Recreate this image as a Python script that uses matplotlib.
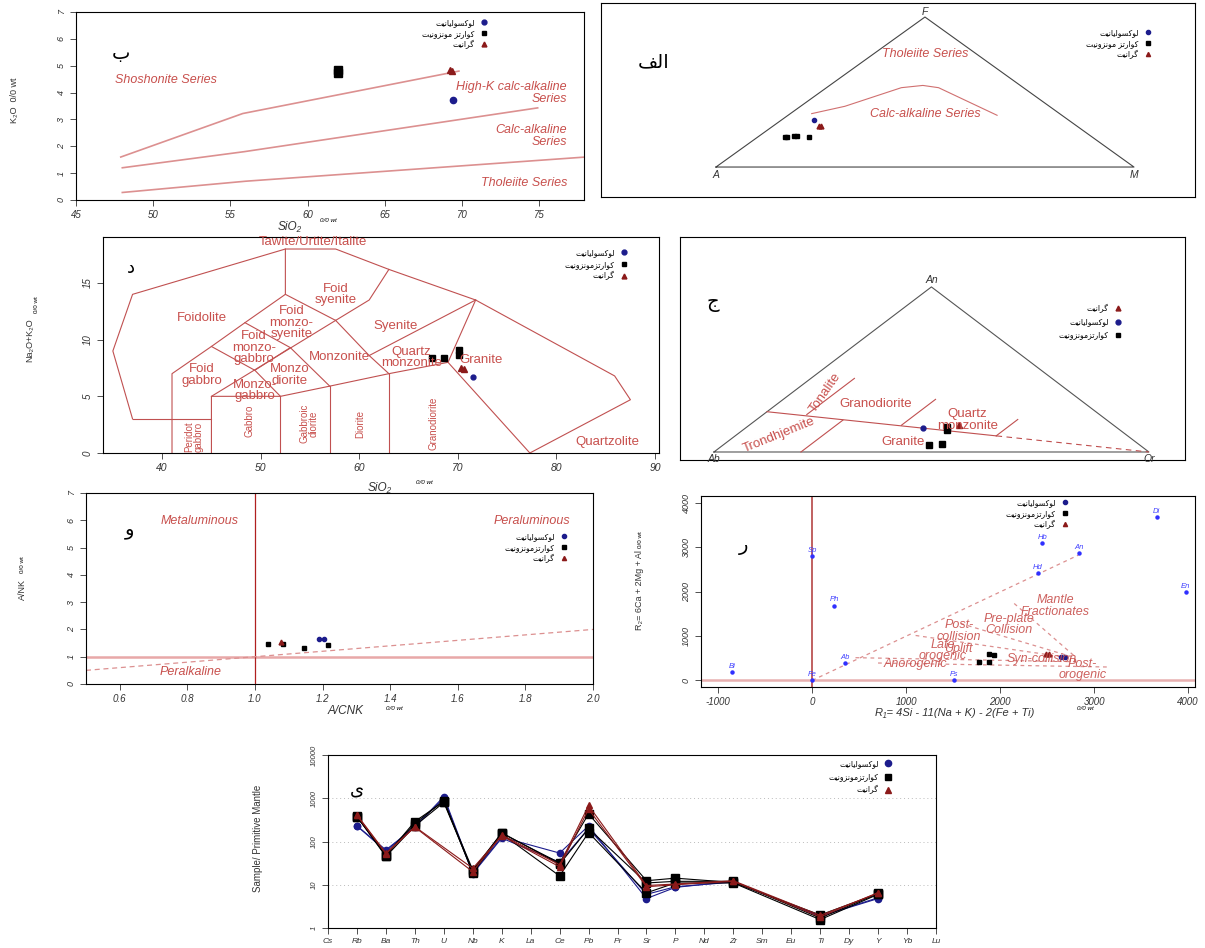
import numpy as np
import matplotlib.pyplot as plt
from matplotlib.lines import Line2D

plt.rcParams['font.family'] = ['Liberation Sans', 'DejaVu Sans']
plt.rcParams['axes.unicode_minus'] = False

W, H = 1205, 948
RED = '#c8504d'
LINE = '#c05050'
PINK = '#dc9090'
BLUE = '#1c1c8c'
DRED = '#8b1a1a'

# legend names
lux = 'لوکسولیانیت'
qmz = 'کوارتز مونزونیت'
qmz2 = 'کوارتزمونزونیت'
gra = 'گرانیت'

# --- panel ب : K2O vs SiO2
sio2_lux = [69.4]
k2o_lux = [3.72]
sio2_qm = [62.0, 62.0]
k2o_qm = [4.72, 4.85]
sio2_gr = [69.2, 69.35]
k2o_gr = [4.83, 4.80]
pt_x = [[47.9, 55.8, 69.8], [48, 55.9, 74.9], [48, 56, 78]]
pt_y = [[1.6, 3.22, 4.8], [1.2, 1.8, 3.43], [0.28, 0.7, 1.6]]

# --- panel الف : AFM
afm_A_lux, afm_F_lux, afm_M_lux = [60.9], [31.1], [8.0]
afm_A_qm = [73.6, 72.9, 71.1, 70.5, 67.8]
afm_F_qm = [20.0, 20.1, 20.4, 20.4, 20.0]
afm_M_qm = [6.4, 7.0, 8.5, 9.1, 12.2]
afm_A_gr, afm_F_gr, afm_M_gr = [61.7, 61.1], [27.1, 27.6], [11.2, 11.3]
ib_A = [59.3, 48.9, 29.2, 23.3, 20.3, 15.5]
ib_F = [35.6, 40.5, 52.9, 54.4, 52.9, 34.5]
ib_M = [5.1, 10.6, 17.9, 22.3, 26.8, 50.0]

# --- panel د : TAS (plutonic)
tas_si_lux = [71.5]
tas_alk_lux = [6.7]
tas_si_qm = [67.4, 68.6, 70.1, 70.1]
tas_alk_qm = [8.38, 8.38, 9.06, 8.68]
tas_si_gr = [70.3, 70.6]
tas_alk_gr = [7.5, 7.4]
tas_lines = [
    [(37, 3), (35, 9), (37, 14), (52.5, 18), (57.6, 18), (63, 16.2), (71.8, 13.5),
     (85.9, 6.8), (87.5, 4.7), (77.3, 0)],
    [(41, 0), (41, 7), (45, 9.4), (48.4, 11.5), (52.5, 14), (52.5, 18)],
    [(37, 3), (45, 3)],
    [(45, 0), (45, 5), (52, 5), (57, 5.9), (63, 7), (69, 8)],
    [(52, 0), (52, 5)], [(57, 0), (57, 5.9)], [(63, 0), (63, 7)],
    [(45, 5), (57.6, 11.7)],
    [(45, 9.4), (49.4, 7.3), (52, 5)],
    [(49.4, 7.3), (53, 9.3), (57, 5.9)],
    [(48.4, 11.5), (53, 9.3)],
    [(52.5, 14), (57.6, 11.7), (61, 13.5), (63, 16.2)],
    [(57.6, 11.7), (61, 8.6), (63, 7)],
    [(61, 8.6), (71.8, 13.5)],
    [(77.3, 0), (69, 8), (71.8, 13.5)],
]

# --- panel ج : Ab-An-Or
an_lux, or_lux = [14.6], [40.7]
an_qm, or_qm = [15.2, 13.2, 4.1, 5.1], [46.0, 47.0, 47.5, 49.9]
an_gr, or_gr = [16.2], [48.3]
oc_an = [[24.4, 9.75], [22.7, 44.6], [16.2, 31.9], [9.75, 19.7], [0, 19.3]]
oc_or = [[0, 60.1], [10, 10], [35, 35], [60, 60], [20, 20]]
oc_dash_an = [9.75, 0]
oc_dash_or = [60.1, 100]

# --- panel و : A/NK vs A/CNK
acnk_lux, ank_lux = [1.19, 1.205], [1.66, 1.66]
acnk_qm, ank_qm = [1.038, 1.084, 1.145, 1.217], [1.47, 1.47, 1.33, 1.42]
acnk_gr, ank_gr = [1.076], [1.53]

# --- panel ر : R1-R2
r1_lux, r2_lux = [2649, 2690], [526, 526]
r1_qm, r2_qm = [1774, 1885, 1877, 1939], [414, 414, 602, 564]
r1_gr, r2_gr = [2484, 2520], [586, 586]
min_names = ['Bi', 'Fe', 'Ab', 'Fs', 'Ph', 'Sp', 'Hb', 'Hd', 'An', 'Di', 'En']
min_r1 = [-850, 0, 350, 1514, 235, 0, 2450, 2401, 2840, 3667, 3977]
min_r2 = [188, 15, 391, 0, 1684, 2797, 3098, 2421, 2870, 3684, 1992]
bb_r1 = [[0, 2834], [2150, 2800], [1580, 2750], [1100, 2700], [460, 2800], [700, 3150]]
bb_r2 = [[0, 2820], [1730, 530], [1280, 540], [1010, 520], [510, 420], [390, 300]]

# --- panel ی : spider diagram
elements = ['Cs', 'Rb', 'Ba', 'Th', 'U', 'Nb', 'K', 'La', 'Ce', 'Pb', 'Pr', 'Sr', 'P',
            'Nd', 'Zr', 'Sm', 'Eu', 'Ti', 'Dy', 'Y', 'Yb', 'Lu']
n = np.nan
lux1 = [n, 230, 64, 214, 1097, 19, 126, n, 54, 230, n, 4.8, 8.7, n, 12, n, n, 1.86, n, 4.8, n, n]
lux2 = [n, 228, 60, 225, 1000, 18, 120, n, 33, 200, n, 6.0, 9.0, n, 11.5, n, n, 1.9, n, 5.0, n, n]
qm1 = [n, 377, 47, 290, 840, 22, 155, n, 32, 435, n, 12.4, 14.2, n, 11.3, n, n, 2.0, n, 6.2, n, n]
qm2 = [n, 370, 50, 260, 880, 18.6, 150, n, 16, 161, n, 6.5, 11, n, 11, n, n, 1.56, n, 6.0, n, n]
qm3 = [n, 380, 45, 230, 800, 20, 160, n, 30, 200, n, 11, 12, n, 12, n, n, 1.7, n, 6.3, n, n]
gr1 = [n, 413, 54, 214, n, 20, 142, n, 29, 680, n, 9.6, 10.4, n, 12.4, n, n, 1.96, n, 6.4, n, n]
gr2 = [n, 400, 52, 220, n, 24, 135, n, 26, 560, n, 9.0, 10.0, n, 12.0, n, n, 1.8, n, 6.6, n, n]

# Persian letters -> presentation forms (iso, fin, ini, med)
FORMS = {
    'ا': ('\uFE8D', '\uFE8E', None, None), 'ب': ('\uFE8F', '\uFE90', '\uFE91', '\uFE92'),
    'ت': ('\uFE95', '\uFE96', '\uFE97', '\uFE98'), 'ج': ('\uFE9D', '\uFE9E', '\uFE9F', '\uFEA0'),
    'د': ('\uFEA9', '\uFEAA', None, None), 'ر': ('\uFEAD', '\uFEAE', None, None),
    'ز': ('\uFEAF', '\uFEB0', None, None), 'س': ('\uFEB1', '\uFEB2', '\uFEB3', '\uFEB4'),
    'ف': ('\uFED1', '\uFED2', '\uFED3', '\uFED4'), 'ل': ('\uFEDD', '\uFEDE', '\uFEDF', '\uFEE0'),
    'م': ('\uFEE1', '\uFEE2', '\uFEE3', '\uFEE4'), 'ن': ('\uFEE5', '\uFEE6', '\uFEE7', '\uFEE8'),
    'و': ('\uFEED', '\uFEEE', None, None), 'ک': ('\uFB8E', '\uFB8F', '\uFB90', '\uFB91'),
    'گ': ('\uFB92', '\uFB93', '\uFB94', '\uFB95'), 'ی': ('\uFBFC', '\uFBFD', '\uFBFE', '\uFBFF'),
}


def fa(s):
    out = []
    for i, ch in enumerate(s):
        f = FORMS.get(ch)
        if f is None:
            out.append(ch)
            continue
        prev = s[i - 1] if i > 0 else ''
        nxt = s[i + 1] if i + 1 < len(s) else ''
        jp = prev in FORMS and FORMS[prev][2] is not None
        jn = f[2] is not None and nxt in FORMS
        out.append(f[3] if jp and jn else f[1] if jp else f[2] if jn else f[0])
    return ''.join(out[::-1])


fig = plt.figure(figsize=(W / 100, H / 100), dpi=100)


def px_axes(l, t, r, b):
    return fig.add_axes([l / W, 1 - b / H, (r - l) / W, (b - t) / H])


def ftext(x, y, s, **kw):
    fig.text(x / W, 1 - y / H, s, **kw)


def style(ax, size=7):
    ax.tick_params(direction='out', length=4, width=0.6, labelsize=size, colors='#333333')
    ax.tick_params(axis='y', labelrotation=90, labelsize=size - 0.5)
    for lab in ax.get_xticklabels() + ax.get_yticklabels():
        lab.set_style('italic')
    for lab in ax.get_yticklabels():
        lab.set_va('center')
    for s in ax.spines.values():
        s.set_linewidth(0.8)


STY = {'lux': dict(marker='o', color=BLUE), 'qm': dict(marker='s', color='black'),
       'gr': dict(marker='^', color=DRED)}
NAMES = {'lux': lux, 'qm': qmz2, 'gr': gra}


def legend(ax, order, x, y, ms, fs=5.5, sp=0.25, names=None):
    names = names or NAMES
    hs = [Line2D([], [], ls='none', ms=ms, **STY[k]) for k in order]
    ax.legend(hs, [fa(names[k]) for k in order], loc='upper right',
              bbox_to_anchor=(x / W, 1 - y / H), bbox_transform=fig.transFigure,
              frameon=False, markerfirst=False, borderpad=0, borderaxespad=0,
              handlelength=0.8, handletextpad=0.8, labelspacing=sp,
              prop={'family': 'DejaVu Sans', 'size': fs})


def tern(l, t, r):
    l, t, r = (np.asarray(v, float) for v in (l, t, r))
    s = l + t + r
    return (r + t / 2) / s, t / s * np.sqrt(3) / 2


# ===== ب
ax = px_axes(76, 12, 584, 200)
for xs, ys in zip(pt_x, pt_y):
    ax.plot(xs, ys, color=PINK, lw=1.2)
ax.plot(sio2_qm, k2o_qm, ls='none', ms=6, **STY['qm'])
ax.plot(sio2_gr, k2o_gr, ls='none', ms=5, **STY['gr'])
ax.plot(sio2_lux, k2o_lux, ls='none', ms=4.5, **STY['lux'])
tk = dict(color=RED, style='italic', fontsize=9, linespacing=1.0)
ax.text(50.8, 4.46, 'Shoshonite Series', ha='center', va='center', **tk)
ax.text(76.8, 3.97, 'High-K calc-alkaline\nSeries', ha='right', va='center', multialignment='right', **tk)
ax.text(76.8, 2.38, 'Calc-alkaline\nSeries', ha='right', va='center', multialignment='right', **tk)
ax.text(76.8, 0.64, 'Tholeiite Series', ha='right', va='center', **tk)
ax.text(47.9, 5.45, fa('ب'), fontsize=14, family='DejaVu Sans', ha='center', va='center')
ax.set_xlim(45, 77.9)
ax.set_ylim(0, 7)
ax.set_xticks(range(45, 80, 5))
ax.set_yticks(range(0, 8))
style(ax)
legend(ax, ['lux', 'qm', 'gr'], 487, 18, 3.5, names={'lux': lux, 'qm': qmz, 'gr': gra})
ftext(290, 227, 'SiO₂', fontsize=8.5, style='italic', ha='center', va='center', color='#333333')
ftext(328, 221, '0/0 wt', fontsize=4.5, style='italic', ha='center', va='center')
ftext(15, 100, 'K₂O  0/0 wt', fontsize=6.5, rotation=90, ha='center', va='center', color='#333333')

# ===== الف
ax = px_axes(601, 3, 1195, 197)
ax.set_xticks([])
ax.set_yticks([])
tx, ty = tern([1, 0, 0, 1], [0, 1, 0, 0], [0, 0, 1, 0])
ax.plot(tx, ty, color='#444444', lw=0.8)
ax.plot(*tern(ib_A, ib_F, ib_M), color='#d07070', lw=0.8)
ax.plot(*tern(afm_A_qm, afm_F_qm, afm_M_qm), ls='none', ms=3.5, **STY['qm'])
ax.plot(*tern(afm_A_gr, afm_F_gr, afm_M_gr), ls='none', ms=3.5, **STY['gr'])
ax.plot(*tern(afm_A_lux, afm_F_lux, afm_M_lux), ls='none', ms=3, **STY['lux'])
ax.set_xlim(-0.275, 1.146)
ax.set_ylim(-0.173, 0.947)
ax.text(0.5, 0.655, 'Tholeiite Series', ha='center', va='center', **tk)
ax.text(0.5, 0.305, 'Calc-alkaline Series', ha='center', va='center', **tk)
vk = dict(style='italic', fontsize=7.5, color='#333333', ha='center', va='center')
ax.text(0, -0.045, 'A', **vk)
ax.text(1, -0.045, 'M', **vk)
ax.text(0.5, 0.895, 'F', **vk)
ftext(654, 62, fa('الف'), fontsize=14, family='DejaVu Sans', ha='center', va='center')
legend(ax, ['lux', 'qm', 'gr'], 1151, 28, 3, names={'lux': lux, 'qm': qmz, 'gr': gra})

# ===== د
ax = px_axes(103, 237, 659, 453)
for seg in tas_lines:
    xs, ys = zip(*seg)
    ax.plot(xs, ys, color=LINE, lw=0.8)
ax.plot(tas_si_qm, tas_alk_qm, ls='none', ms=4, **STY['qm'])
ax.plot(tas_si_gr, tas_alk_gr, ls='none', ms=4, **STY['gr'])
ax.plot(tas_si_lux, tas_alk_lux, ls='none', ms=3.5, **STY['lux'])
rk = dict(color=RED, fontsize=9.5, ha='center', va='center', linespacing=0.95)
ax.text(55.3, 18.6, 'Tawite/Urtite/Italite', **rk)
ax.text(57.65, 14.0, 'Foid\nsyenite', **rk)
ax.text(44.0, 11.9, 'Foidolite', **rk)
ax.text(53.1, 11.5, 'Foid\nmonzo-\nsyenite', **rk)
ax.text(63.7, 11.2, 'Syenite', **rk)
ax.text(49.3, 9.3, 'Foid\nmonzo-\ngabbro', **rk)
ax.text(58.0, 8.44, 'Monzonite', **rk)
ax.text(65.3, 8.44, 'Quartz\nmonzonite', **rk)
ax.text(72.3, 8.2, 'Granite', **rk)
ax.text(44.0, 6.9, 'Foid\ngabbro', **rk)
ax.text(52.9, 6.9, 'Monzo\ndiorite', **rk)
ax.text(49.4, 5.5, 'Monzo-\ngabbro', **rk)
rv = dict(rk, fontsize=7, rotation=90)
ax.text(43.2, 1.4, 'Peridot\ngabbro', **rv)
ax.text(48.9, 2.8, 'Gabbro', **rv)
ax.text(54.9, 2.6, 'Gabbroic\ndiorite', **rv)
ax.text(60.1, 2.6, 'Diorite', **rv)
ax.text(67.5, 2.6, 'Granodiorite', **rv)
ax.text(85.2, 0.94, 'Quartzolite', **rk)
ax.text(36.8, 16.3, fa('د'), fontsize=13, family='DejaVu Sans', ha='center', va='center')
ax.set_xlim(34, 90.4)
ax.set_ylim(0, 19.06)
ax.set_xticks(range(40, 100, 10))
ax.set_yticks([0, 5, 10, 15])
style(ax, 7.5)
legend(ax, ['lux', 'qm', 'gr'], 627, 248, 3.5, sp=0.35)
ftext(380, 488, 'SiO₂', fontsize=8.5, style='italic', ha='center', va='center', color='#333333')
ftext(424, 482, '0/0 wt', fontsize=4.5, style='italic', ha='center', va='center')
ftext(30, 340, 'Na₂O+K₂O', fontsize=6.5, rotation=90, ha='center', va='center', color='#333333')
ftext(36, 305, '0/0 wt', fontsize=4.5, rotation=90, ha='center', va='center')

# ===== ج
ax = px_axes(680, 237, 1185, 460)
ax.set_xticks([])
ax.set_yticks([])
tx, ty = tern([1, 0, 0, 1], [0, 1, 0, 0], [0, 0, 1, 0])
ax.plot(tx, ty, color='#555555', lw=0.8)
for a, o in zip(oc_an, oc_or):
    a, o = np.array(a), np.array(o)
    ax.plot(*tern(100 - a - o, a, o), color=LINE, lw=0.8)
da, do = np.array(oc_dash_an), np.array(oc_dash_or)
ax.plot(*tern(100 - da - do, da, do), color=LINE, lw=0.8, ls=(0, (5, 4)))
ax.plot(*tern(100 - np.array(an_qm) - np.array(or_qm), an_qm, or_qm), ls='none', ms=4, **STY['qm'])
ax.plot(*tern(100 - np.array(an_gr) - np.array(or_gr), an_gr, or_gr), ls='none', ms=4, **STY['gr'])
ax.plot(*tern(100 - np.array(an_lux) - np.array(or_lux), an_lux, or_lux), ls='none', ms=3.5, **STY['lux'])
ck = dict(color=RED, fontsize=9.5, ha='center', va='center', linespacing=0.95)
ax.text(0.255, 0.31, 'Tonalite', rotation=55, **ck)
ax.text(0.371, 0.251, 'Granodiorite', **ck)
ax.text(0.583, 0.167, 'Quartz\nmonzonite', **ck)
ax.text(0.15, 0.088, 'Trondhjemite', rotation=22, **ck)
ax.text(0.434, 0.053, 'Granite', **ck)
ax.text(0.5, 0.905, 'An', **vk)
ax.text(0, -0.035, 'Ab', **vk)
ax.text(1, -0.035, 'Or', **vk)
ax.set_xlim(-0.078, 1.083)
ax.set_ylim(-0.042, 1.128)
ftext(713, 302, fa('ج'), fontsize=14, family='DejaVu Sans', ha='center', va='center')
legend(ax, ['gr', 'lux', 'qm'], 1121, 304, 3.5, sp=0.55)

# ===== و
ax = px_axes(86, 493, 593, 684)
ax.axhline(1, color='#e8a8a8', lw=1.8)
ax.axvline(1, color='#b02020', lw=0.9)
ax.plot([0.5, 2.0], [0.5, 2.0], color=PINK, lw=0.9, ls=(0, (4, 3)))
ax.plot(acnk_qm, ank_qm, ls='none', ms=3.5, **STY['qm'])
ax.plot(acnk_gr, ank_gr, ls='none', ms=3.5, **STY['gr'])
ax.plot(acnk_lux, ank_lux, ls='none', ms=3, **STY['lux'])
ax.text(0.835, 5.96, 'Metaluminous', ha='center', va='center', **tk)
ax.text(1.819, 5.96, 'Peraluminous', ha='center', va='center', **tk)
ax.text(0.81, 0.45, 'Peralkaline', ha='center', va='center', **tk)
ax.text(0.628, 5.65, fa('و'), fontsize=14, family='DejaVu Sans', ha='center', va='center')
ax.set_xlim(0.5, 2.0)
ax.set_ylim(0, 7)
ax.set_xticks(np.arange(0.6, 2.01, 0.2))
ax.set_xticklabels(['%.1f' % v for v in np.arange(0.6, 2.01, 0.2)])
ax.set_yticks(range(0, 8))
style(ax)
legend(ax, ['lux', 'qm', 'gr'], 567, 532, 3)
ftext(346, 711, 'A/CNK', fontsize=8.5, style='italic', ha='center', va='center', color='#333333')
ftext(394, 708, '0/0 wt', fontsize=4.5, style='italic', ha='center', va='center')
ftext(22, 590, 'A/NK', fontsize=6.5, rotation=90, ha='center', va='center', color='#333333')
ftext(22, 565, '0/0 wt', fontsize=4.5, rotation=90, ha='center', va='center')

# ===== ر
ax = px_axes(701, 496, 1195, 687)
ax.axhline(0, color='#e8b0b0', lw=1.8)
ax.axvline(0, color='#c06060', lw=1.4)
for xs, ys in zip(bb_r1, bb_r2):
    ax.plot(xs, ys, color=PINK, lw=0.9, ls=(0, (3, 3)))
ax.plot(min_r1, min_r2, ls='none', marker='o', ms=2.2, color='#3030ff')
for nm, x, y in zip(min_names, min_r1, min_r2):
    ax.annotate(nm, (x, y), xytext=(0, 3), textcoords='offset points', ha='center',
                fontsize=5.5, style='italic', color='#4040ff')
ax.plot(r1_qm, r2_qm, ls='none', ms=3.5, **STY['qm'])
ax.plot(r1_gr, r2_gr, ls='none', ms=3.5, **STY['gr'])
ax.plot(r1_lux, r2_lux, ls='none', ms=3, **STY['lux'])
bk = dict(color=RED, fontsize=9, ha='center', va='center', style='italic', linespacing=0.95, alpha=0.9)
ax.text(2587, 1669, 'Mantle\nFractionates', **bk)
ax.text(2092, 1260, 'Pre-plate\nCollision', **bk)
ax.text(1560, 975, 'Post-\ncollision\nUplift', **bk)
ax.text(1390, 669, 'Late\norogenic', **bk)
ax.text(2442, 489, 'Syn-collision', **bk)
ax.text(1101, 361, 'Anorogenic', **bk)
ax.text(2875, 241, 'Post-\norogenic', **bk)
ax.text(-734, 3045, fa('ر'), fontsize=14, family='DejaVu Sans', ha='center', va='center')
ax.set_xlim(-1185, 4075)
ax.set_ylim(-150, 4150)
ax.set_xticks(range(-1000, 5000, 1000))
ax.set_yticks(range(0, 5000, 1000))
style(ax)
legend(ax, ['lux', 'qm', 'gr'], 1068, 498, 3)
ftext(955, 713, 'R₁= 4Si - 11(Na + K) - 2(Fe + Ti)', fontsize=8, style='italic', ha='center',
      va='center', color='#333333')
ftext(1085, 709, '0/0 wt', fontsize=4.5, style='italic', ha='center', va='center')
ftext(640, 590, 'R₂= 6Ca + 2Mg + Al', fontsize=6.5, rotation=90, ha='center', va='center', color='#333333')
ftext(641, 540, '0/0 wt', fontsize=4.5, rotation=90, ha='center', va='center')

# ===== ی
ax = px_axes(328, 755, 936, 928)
xi = np.arange(1, len(elements) + 1)
for v in [10, 100, 1000]:
    ax.axhline(v, color='#bbbbbb', lw=0.7, ls=(0, (1, 3)))
series = [(lux1, 'lux'), (lux2, 'lux'), (qm1, 'qm'), (qm2, 'qm'), (qm3, 'qm'), (gr1, 'gr'), (gr2, 'gr')]
for vals, key in series:
    vals = np.array(vals, float)
    ok = np.isfinite(vals)
    st = STY[key]
    ax.plot(xi[ok], vals[ok], color=st['color'], lw=0.8, marker=st['marker'],
            ms=5.5 if key == 'qm' else 4.5)
ax.set_yscale('log')
ax.set_xlim(1, 22)
ax.set_ylim(1, 10000)
ax.set_xticks(xi)
ax.set_xticklabels(elements)
ax.set_yticks([1, 10, 100, 1000, 10000])
ax.set_yticklabels(['1', '10', '100', '1000', '10000'])
ax.minorticks_off()
style(ax, 6)
ax.text(2.0, 1550, fa('ی'), fontsize=13, family='DejaVu Sans', ha='center', va='center')
legend(ax, ['lux', 'qm', 'gr'], 891, 759, 4.5, sp=0.55)
ftext(258, 838, 'Sample/ Primitive Mantle', fontsize=7, rotation=90, ha='center', va='center',
      color='#333333')

plt.savefig('out.png', dpi=100)
